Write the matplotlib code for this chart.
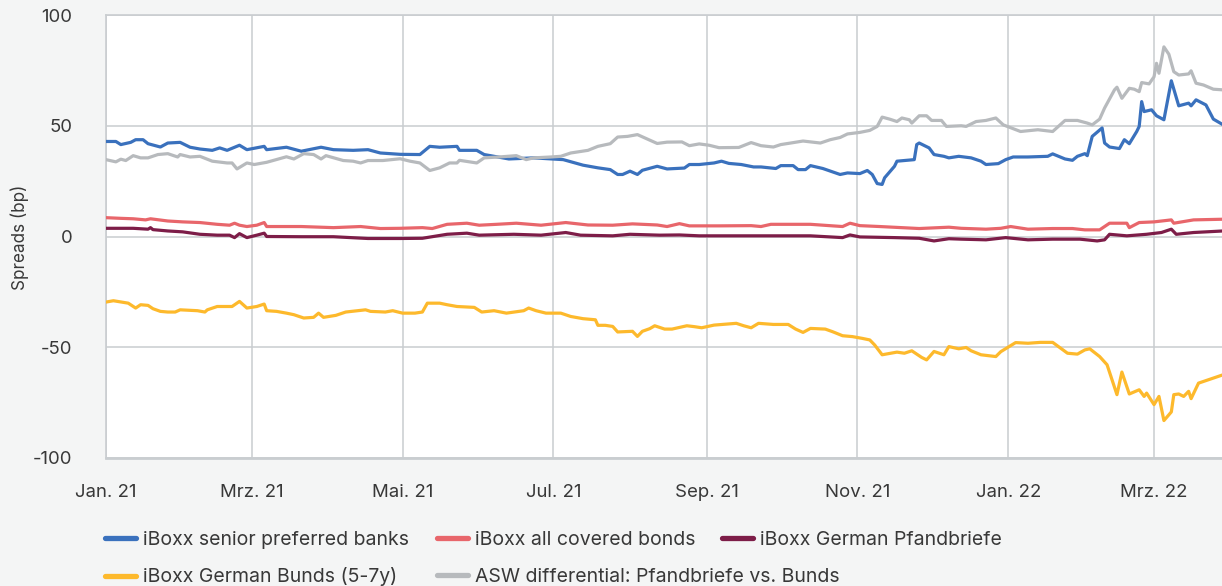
import matplotlib
matplotlib.use("Agg")
import matplotlib.pyplot as plt
from matplotlib.lines import Line2D
import pandas as pd

plt.rcParams['font.family'] = ['Inter', 'DejaVu Sans']
plt.rcParams['axes.unicode_minus'] = False

start = pd.Timestamp("2021-01-01")

# x values: days since 1 Jan 2021, y values: spread in bp
senior_days = [0, 4, 6, 10, 12, 15, 17, 22, 25, 30, 34, 38, 43, 46, 49, 54, 57, 64, 65, 73, 79, 87, 92,
               100, 106, 111, 119, 127, 131, 135, 142, 143, 150, 153, 163, 173, 185, 193, 199, 204, 207,
               209, 212, 215, 217, 223, 227, 234, 236, 240, 246, 249, 252, 257, 262, 265, 271, 273, 278,
               280, 283, 285, 290, 297, 300, 305, 308, 310, 312, 314, 315, 319, 320, 327, 328, 329, 333,
               335, 339, 341, 345, 350, 354, 356, 361, 364, 367, 373, 381, 383, 388, 391, 393, 396, 397,
               399, 403, 404, 406, 410, 412, 414, 417, 418, 419, 420, 423, 425, 428, 431, 434, 438, 439,
               441, 445, 448, 452]
senior_vals = [42.9, 42.9, 41.5, 42.5, 43.7, 43.7, 41.9, 40.4, 42.2, 42.5, 40.3, 39.5, 38.9, 40.0, 38.9,
               41.2, 39.2, 40.7, 39.2, 40.3, 38.5, 40.3, 39.2, 38.9, 39.2, 37.7, 37.1, 37.0, 40.7, 40.3,
               40.7, 38.9, 38.9, 37.0, 35.0, 35.5, 34.7, 32.2, 31.0, 30.2, 28.0, 28.0, 29.5, 28.0, 29.9,
               31.7, 30.5, 30.9, 32.5, 32.5, 33.2, 34.0, 33.0, 32.5, 31.4, 31.4, 30.7, 32.0, 32.0, 30.2,
               30.2, 32.0, 30.7, 28.0, 28.7, 28.4, 29.8, 28.0, 23.9, 23.5, 26.5, 31.7, 34.0, 34.7, 41.5,
               42.2, 40.0, 37.0, 36.2, 35.5, 36.2, 35.5, 34.0, 32.5, 32.9, 34.7, 35.9, 35.9, 36.2, 37.3,
               35.0, 34.4, 36.2, 37.4, 36.5, 45.2, 49.0, 42.2, 40.4, 39.7, 43.7, 41.9, 47.4, 49.7, 60.9,
               56.4, 57.2, 54.5, 52.7, 70.3, 59.0, 60.2, 59.0, 61.7, 59.4, 53.0, 50.4]

covered_days = [0, 6, 11, 16, 18, 25, 31, 38, 45, 50, 52, 54, 57, 61, 64, 65, 79, 92, 103, 111, 119, 128,
                132, 138, 146, 151, 158, 166, 176, 186, 195, 205, 213, 223, 227, 232, 236, 248, 261, 265,
                269, 285, 294, 298, 301, 305, 313, 329, 341, 346, 356, 362, 366, 373, 383, 391, 396, 402,
                406, 413, 414, 418, 424, 431, 432, 440, 452]
covered_vals = [8.5, 8.2, 8.0, 7.5, 8.0, 7.0, 6.6, 6.3, 5.5, 5.1, 6.0, 5.1, 4.5, 5.1, 6.3, 4.5, 4.5, 4.0,
                4.5, 3.6, 3.7, 4.0, 3.6, 5.5, 6.0, 5.1, 5.5, 6.0, 5.1, 6.3, 5.2, 5.1, 5.7, 5.2, 4.5, 5.8,
                4.8, 4.8, 4.9, 4.5, 5.5, 5.5, 4.8, 4.5, 6.0, 4.9, 4.5, 3.6, 4.2, 3.7, 3.3, 3.7, 4.5, 3.3,
                3.6, 3.6, 3.0, 3.0, 6.0, 6.0, 4.0, 6.3, 6.6, 7.5, 6.0, 7.5, 7.8]

pfandbrief_days = [0, 11, 17, 18, 19, 25, 31, 38, 45, 50, 52, 54, 57, 61, 64, 65, 79, 92, 106, 119, 128,
                   138, 146, 151, 165, 176, 186, 192, 205, 212, 224, 232, 240, 265, 285, 298, 301, 305,
                   319, 329, 335, 341, 346, 356, 364, 373, 383, 394, 401, 404, 406, 413, 421, 427, 431,
                   433, 440, 452]
pfandbrief_vals = [3.7, 3.7, 3.3, 4.0, 3.1, 2.5, 2.1, 1.0, 0.6, 0.6, -0.5, 1.3, -0.5, 0.6, 1.5, 0.0,
                   -0.1, -0.1, -0.9, -0.9, -0.8, 1.0, 1.5, 0.6, 1.0, 0.6, 1.8, 0.6, 0.3, 1.0, 0.6, 0.7,
                   0.3, 0.3, 0.3, -0.5, 0.7, -0.2, -0.5, -0.8, -2.0, -1.0, -1.2, -1.5, -0.5, -1.5, -1.2,
                   -1.2, -2.0, -1.5, 1.0, 0.3, 1.0, 1.8, 3.3, 1.0, 1.8, 2.5]

bunds_days = [0, 3, 9, 12, 14, 17, 19, 22, 25, 28, 30, 37, 40, 41, 45, 51, 54, 57, 61, 64, 65, 69, 73,
              76, 80, 84, 86, 88, 93, 97, 102, 105, 107, 113, 116, 120, 125, 128, 130, 135, 138, 142, 149,
              152, 157, 162, 169, 171, 174, 178, 184, 188, 193, 198, 199, 202, 205, 207, 213, 215, 217,
              220, 222, 226, 229, 235, 238, 241, 246, 255, 258, 261, 264, 270, 276, 279, 282, 285, 291,
              294, 298, 302, 306, 309, 311, 314, 320, 323, 326, 330, 332, 335, 339, 341, 345, 348, 350,
              354, 360, 362, 368, 373, 378, 383, 389, 393, 396, 398, 402, 405, 409, 411, 414, 418, 420,
              421, 424, 426, 428, 431, 432, 434, 436, 438, 439, 442, 446, 452]
bunds_vals = [-29.6, -29.0, -30.1, -32.3, -30.8, -31.1, -32.6, -33.8, -34.1, -34.1, -33.1, -33.5, -34.1,
              -33.1, -31.6, -31.6, -29.3, -32.3, -31.6, -30.5, -33.5, -33.8, -34.6, -35.3, -36.8, -36.5,
              -34.6, -36.5, -35.6, -34.1, -33.5, -33.1, -33.8, -34.1, -33.5, -34.6, -34.6, -34.1, -30.1,
              -30.1, -30.8, -31.6, -32.0, -34.1, -33.5, -34.6, -33.5, -32.3, -33.5, -34.6, -34.6, -36.1,
              -37.1, -37.6, -40.1, -40.1, -40.6, -43.1, -42.8, -45.1, -42.8, -41.6, -40.3, -41.8, -41.8,
              -40.3, -40.7, -41.2, -40.0, -39.2, -40.3, -41.2, -39.2, -39.7, -39.7, -41.8, -43.3, -41.5,
              -41.8, -43.0, -44.8, -45.2, -46.0, -46.7, -49.0, -53.4, -52.2, -52.7, -51.6, -54.6, -55.7,
              -51.9, -53.4, -49.7, -50.7, -50.1, -51.6, -53.4, -54.2, -52.0, -47.9, -48.2, -47.8, -47.8,
              -52.7, -53.1, -51.2, -50.7, -54.2, -57.9, -71.4, -61.2, -71.1, -69.2, -72.2, -70.7, -75.9,
              -72.2, -83.1, -79.2, -71.4, -71.1, -72.2, -69.9, -73.2, -66.2, -64.7, -62.4]

asw_days = [0, 4, 6, 8, 11, 14, 17, 21, 25, 29, 30, 34, 38, 43, 49, 51, 53, 57, 60, 65, 73, 76, 80, 84,
            87, 89, 96, 100, 103, 106, 112, 119, 123, 127, 131, 135, 139, 142, 143, 150, 153, 159, 166,
            170, 173, 180, 184, 188, 195, 199, 204, 207, 211, 215, 219, 223, 227, 233, 236, 240, 244,
            248, 256, 261, 265, 270, 273, 277, 282, 289, 293, 297, 300, 305, 309, 312, 314, 317, 320,
            322, 325, 326, 329, 332, 334, 338, 340, 346, 348, 352, 356, 360, 363, 370, 377, 383, 388,
            393, 397, 399, 402, 404, 408, 409, 411, 414, 416, 418, 419, 422, 424, 425, 426, 428, 430,
            432, 434, 438, 439, 441, 444, 448, 452]
asw_vals = [34.7, 33.7, 34.9, 34.3, 36.5, 35.5, 35.5, 37.0, 37.4, 35.9, 37.0, 35.9, 36.2, 34.0, 33.2,
            33.2, 30.5, 33.2, 32.5, 33.5, 36.0, 35.0, 37.4, 37.0, 35.0, 36.5, 34.3, 34.0, 33.2, 34.3,
            34.3, 35.1, 34.0, 33.2, 29.8, 31.0, 33.2, 33.2, 34.4, 33.2, 35.5, 35.9, 36.5, 34.7, 35.5,
            35.9, 36.2, 37.7, 38.9, 40.7, 41.9, 44.9, 45.2, 46.0, 44.0, 42.0, 42.6, 42.7, 41.0, 41.8,
            41.2, 40.1, 40.2, 42.4, 41.0, 40.4, 41.5, 42.2, 43.1, 42.2, 43.7, 44.7, 46.3, 47.0, 47.9,
            49.7, 53.9, 53.0, 51.9, 53.5, 52.7, 51.2, 54.5, 54.5, 52.4, 52.4, 49.7, 50.0, 49.7, 51.9,
            52.4, 53.5, 50.4, 47.4, 48.2, 47.4, 52.4, 52.4, 51.2, 50.4, 53.0, 58.0, 66.2, 67.4, 62.4,
            66.9, 66.5, 65.4, 69.5, 68.9, 72.1, 78.2, 73.7, 85.6, 82.3, 74.4, 72.9, 73.4, 74.8, 69.2,
            68.4, 66.5, 66.2]

tick_dates = ["2021-01-01", "2021-03-01", "2021-05-01", "2021-07-01", "2021-09-01", "2021-11-01",
              "2022-01-01", "2022-03-01"]
tick_labels = ["Jan. 21", "Mrz. 21", "Mai. 21", "Jul. 21", "Sep. 21", "Nov. 21", "Jan. 22", "Mrz. 22"]
y_ticks = [-100, -50, 0, 50, 100]

series = [
    ("iBoxx senior preferred banks", senior_days, senior_vals, "#3a71bd"),
    ("iBoxx all covered bonds", covered_days, covered_vals, "#e8666b"),
    ("iBoxx German Pfandbriefe", pfandbrief_days, pfandbrief_vals, "#7d1d48"),
    ("iBoxx German Bunds (5-7y)", bunds_days, bunds_vals, "#fdb92c"),
    ("ASW differential: Pfandbriefe vs. Bunds", asw_days, asw_vals, "#b7babd"),
]

bg = "#f4f5f5"
grid_col = "#c9cdd0"
text_col = "#383838"

fig = plt.figure(figsize=(12.22, 5.86), dpi=100, facecolor=bg)
ax = fig.add_axes([106 / 1222, 1 - 458 / 586, 1 - 106 / 1222, (458 - 15) / 586])
ax.set_facecolor("white")

for name, days, vals, col in series:
    dates = start + pd.to_timedelta(days, unit="D")
    ax.plot(dates, vals, color=col, lw=2.3, solid_joinstyle="round", zorder=3)

ax.set_ylim(-100, 100)
ax.set_xlim(start, start + pd.Timedelta(days=451.5))
ax.set_yticks(y_ticks)
ax.set_xticks(pd.to_datetime(tick_dates))
ax.set_xticklabels(tick_labels)
ax.grid(True, color=grid_col, lw=1.1, zorder=0)
ax.tick_params(length=0, labelsize=13.4, labelcolor=text_col)
ax.tick_params(axis="y", pad=24)
ax.tick_params(axis="x", pad=19)
for s in ["top", "left", "bottom"]:
    ax.spines[s].set_color(grid_col)
    ax.spines[s].set_linewidth(1.2)
ax.spines["bottom"].set_linewidth(2)
ax.spines["right"].set_visible(False)

fig.text(20 / 1222, 1 - 237 / 586, "Spreads (bp)", rotation=90, ha="center", va="center",
         fontsize=12.3, color=text_col)

# legend: one entry per slot, two rows
slots = [(105, 540), (437, 540), (722, 540), (105, 577), (437, 577)]
for (name, days, vals, col), (px, py) in zip(series, slots):
    h = Line2D([], [], color=col, lw=3.8, solid_capstyle="round")
    fig.legend([h], [name], loc="center left", bbox_to_anchor=(px / 1222, 1 - py / 586),
               frameon=False, borderpad=0, borderaxespad=0, handlelength=1.6, handletextpad=0.35,
               fontsize=14, labelcolor=text_col)

fig.savefig("out.png", dpi=100, facecolor=bg)
